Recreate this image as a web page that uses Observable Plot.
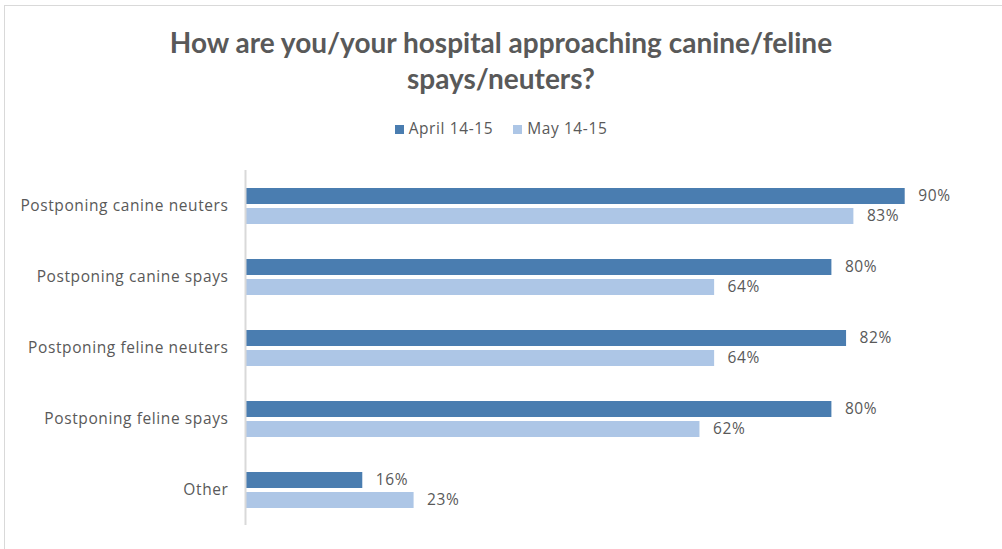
<!DOCTYPE html>
<html><head><meta charset="utf-8">
<script src="https://cdn.jsdelivr.net/npm/d3@7"></script>
<script src="https://cdn.jsdelivr.net/npm/@observablehq/plot@0.6"></script>
<style>
body{margin:0;background:#fff;font-family:"Open Sans",Lato,sans-serif;}
#wrap{position:relative;width:1002px;height:549px;overflow:hidden;}
#frame{position:absolute;left:4px;top:5px;width:1100px;height:600px;border:1.5px solid #d9d9d9;box-sizing:border-box;}
#title{position:absolute;left:0;top:24px;width:1002px;text-align:center;font-family:Lato,sans-serif;font-weight:bold;font-size:28px;line-height:36px;color:#595959;}
#legend{position:absolute;left:0;top:117px;width:1002px;text-align:center;font-size:15.5px;letter-spacing:0.6px;color:#595959;}
#legend span.sw{display:inline-block;width:9px;height:9px;margin-right:5px;vertical-align:0px;}
#legend span.it{margin:0 10px;}
#chart{position:absolute;left:0;top:149px;}
</style></head>
<body><div id="wrap"><div id="frame"></div>
<div id="title">How are you/your hospital approaching canine/feline<br>spays/neuters?</div>
<div id="legend"></div>
<div id="chart"></div></div>
<script>
const categories = ["Postponing canine neuters","Postponing canine spays","Postponing feline neuters","Postponing feline spays","Other"];
const seriesNames = ["April 14-15","May 14-15"];
const april = [90,80,82,80,16];
const may = [83,64,64,62,23];
const colors = ["#4a7db0","#adc6e6"];

const data = [];
categories.forEach((c,i)=>{
  data.push({cat:c, series:seriesNames[0], value:april[i]});
  data.push({cat:c, series:seriesNames[1], value:may[i]});
});

const lg = document.getElementById("legend");
seriesNames.forEach((s,i)=>{
  const it = document.createElement("span"); it.className="it";
  it.innerHTML = `<span class="sw" style="background:${colors[i]}"></span>${s}`;
  lg.appendChild(it);
});

const chart = Plot.plot({
  width:1002, height:390,
  marginLeft:245, marginRight:24, marginTop:20, marginBottom:13,
  style:{fontFamily:"'Open Sans', Lato, sans-serif", fontSize:"15.5px", letterSpacing:"0.6px", color:"#595959", background:"transparent"},
  x:{domain:[0,100], axis:null},
  fy:{domain:categories, padding:0, label:null, axis:"left", tickSize:0, tickPadding:17},
  y:{domain:seriesNames, axis:null, paddingInner:0.2, paddingOuter:0.8},
  color:{domain:seriesNames, range:colors},
  marks:[
    Plot.barX(data,{fy:"cat", y:"series", x:"value", fill:"series"}),
    Plot.text(data,{fy:"cat", y:"series", x:"value", text:d=>d.value+"%", textAnchor:"start", dx:13, fill:"#595959", fontSize:15.5}),
    Plot.ruleX([0],{stroke:"#d9d9d9", strokeWidth:2})
  ]
});
document.getElementById("chart").appendChild(chart);
</script></body></html>
